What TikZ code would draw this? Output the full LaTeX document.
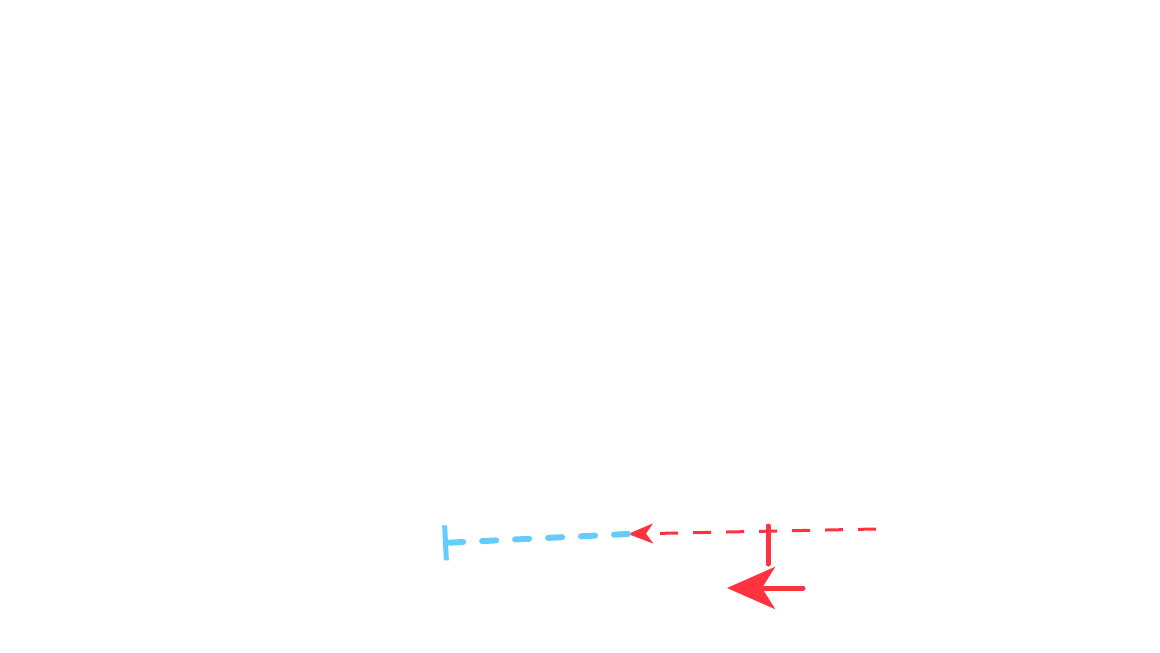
\documentclass[tikz,border=0pt]{standalone}
\usepackage[rgb]{xcolor}
\usepackage{tikz}
\usetikzlibrary{arrows.meta}

\definecolor{flowred}{HTML}{FF3340}
\definecolor{flowblue}{HTML}{66CCFF}

\begin{document}
\begin{tikzpicture}[x=1pt, y=-1pt,
  bluedash/.style = {flowblue, line width=6pt, line cap=round, dash pattern=on 14pt off 19pt},
  reddash/.style = {flowred, line width=3pt, dash pattern=on 18pt off 15pt}]

\useasboundingbox (0,0) rectangle (1160,653);

% end points of the dashed runs and the short marks
\path
(876,529) coordinate (redstart)
(628,534) coordinate (meet)
(443,543) coordinate (blueend)
(768,526) coordinate (tickup)
(768,564) coordinate (tickdown)
(803,588) coordinate (pushstart)
(727,588) coordinate (pushend);

%% red dashed run into the meeting point
\draw[reddash, -{Stealth[length=25pt, width=20pt, inset=7pt]}] (redstart) -- (meet);

%% blue dashed run, closed with a bar
\draw[bluedash, -{Bar[width=35pt, line width=5pt]}] (meet) -- (blueend);

%% short red mark and big red arrow
\draw[flowred, line width=5pt, line cap=round] (tickup) -- (tickdown);
\draw[flowred, line width=5pt, line cap=round, -{Stealth[length=48pt, width=42pt, inset=13pt]}] (pushstart) -- (pushend);

\end{tikzpicture}
\end{document}
